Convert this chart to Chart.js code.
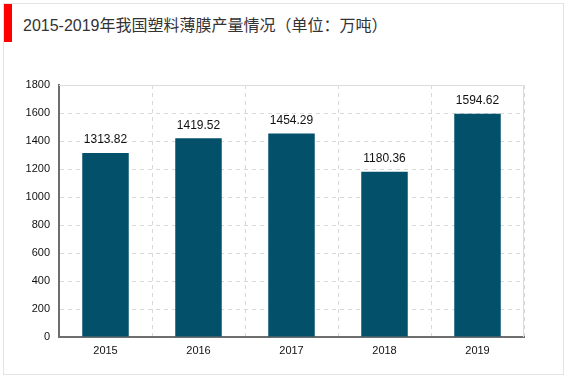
<!DOCTYPE html>
<html>
<head>
<meta charset="utf-8">
<script src="https://cdn.jsdelivr.net/npm/chart.js@4"></script>
<style>
  html, body { margin: 0; padding: 0; background: #fff; }
  #wrap { position: relative; width: 567px; height: 378px; }
  #frame { position: absolute; left: 3px; top: 3px; width: 559px; height: 370px; border: 1px solid #e3e3e3; }
  #redbar { position: absolute; left: 4px; top: 4px; width: 8px; height: 38px; background: #ff0000; }
  #title { position: absolute; left: 23px; top: 12px; font: 16px "Liberation Sans", "Noto Sans CJK SC", sans-serif; color: #333; white-space: nowrap; }
  #chart { position: absolute; left: 0; top: 0; }
</style>
</head>
<body>
<div id="wrap">
  <div id="frame"></div>
  <div id="redbar"></div>
  <div id="title">2015-2019年我国塑料薄膜产量情况（单位：万吨）</div>
  <canvas id="chart" width="567" height="378"></canvas>
</div>
<script>
const years = ['2015', '2016', '2017', '2018', '2019']
const output = [1313.82, 1419.52, 1454.29, 1180.36, 1594.62]
const yTicks = [0, 200, 400, 600, 800, 1000, 1200, 1400, 1600, 1800]

const barColor = '#03506b'
const tickFont = { family: '"Liberation Sans", Arial, sans-serif', size: 11 }

// numbers above each bar
const valueLabels = {
  id: 'valueLabels',
  afterDatasetsDraw(chart) {
    const ctx = chart.ctx
    const meta = chart.getDatasetMeta(0)
    ctx.save()
    ctx.font = '12px "Liberation Sans", Arial, sans-serif'
    ctx.fillStyle = '#111'
    ctx.textAlign = 'center'
    ctx.textBaseline = 'middle'
    meta.data.forEach((bar, i) => {
      ctx.fillText(output[i].toFixed(2), bar.x, bar.y - 13)
    })
    ctx.restore()
  }
}

// solid frame lines at top and right of plot area
const plotFrame = {
  id: 'plotFrame',
  beforeDatasetsDraw(chart) {
    const a = chart.chartArea
    const ctx = chart.ctx
    ctx.save()
    ctx.strokeStyle = '#dcdcdc'
    ctx.lineWidth = 1
    ctx.beginPath()
    ctx.moveTo(a.left, a.top + 0.5)
    ctx.lineTo(a.right - 0.5, a.top + 0.5)
    ctx.lineTo(a.right - 0.5, a.bottom)
    ctx.stroke()
    ctx.restore()
  }
}

new Chart(document.getElementById('chart'), {
  type: 'bar',
  data: {
    labels: years,
    datasets: [{
      data: output,
      backgroundColor: barColor,
      categoryPercentage: 1,
      barPercentage: 0.5
    }]
  },
  options: {
    responsive: false,
    animation: false,
    layout: { padding: { left: 0, top: 85, right: 43, bottom: 0 } },
    plugins: { legend: { display: false }, tooltip: { enabled: false } },
    scales: {
      x: {
        grid: {
          offset: true,
          color: ctx => ctx.index === 0 || ctx.index === years.length ? 'rgba(0,0,0,0)' : '#d9d9d9',
          drawTicks: false
        },
        border: { display: true, color: '#6e6e6e', width: 2, dash: [4, 4] },
        ticks: { color: '#111', font: tickFont, padding: 7 },
        afterFit: s => { s.height = 41 }
      },
      y: {
        min: 0,
        max: 1800,
        afterBuildTicks: s => { s.ticks = yTicks.map(v => ({ value: v })) },
        grid: {
          color: ctx => ctx.index === 0 || ctx.tick.value === 1800 ? 'rgba(0,0,0,0)' : '#d9d9d9',
          drawTicks: false
        },
        border: { display: true, color: '#6e6e6e', width: 2, dash: [4, 4] },
        ticks: { color: '#111', font: tickFont, padding: 9, callback: v => String(v) },
        afterFit: s => { s.width = 59 }
      }
    }
  },
  plugins: [plotFrame, valueLabels]
})
</script>
</body>
</html>
